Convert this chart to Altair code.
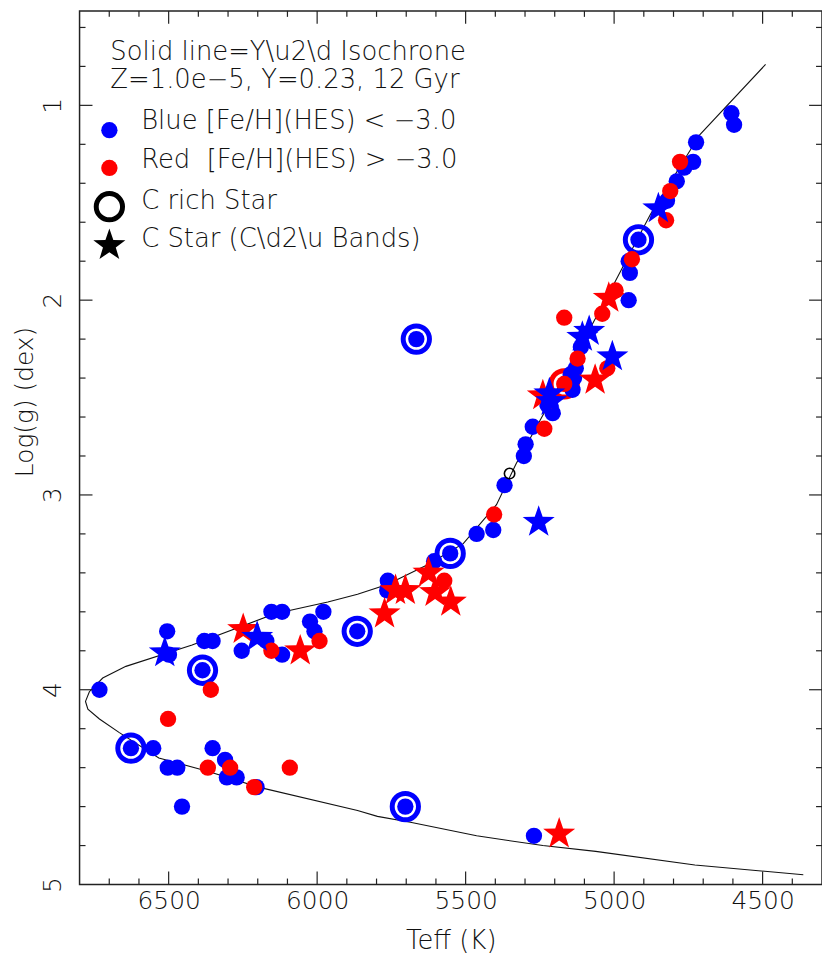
import altair as alt
import pandas as pd

# ---------------- data ----------------
blue_teff = [6733, 6505, 6499, 6380, 6352, 6386, 6627, 6552, 6503, 6471, 6455, 6352, 6310, 6304, 6271, 6204,
             6154, 6118, 5979, 6024, 6009, 6171, 6254, 6118, 5865, 5762, 5764, 5606, 5552, 5463, 5407,
             5369, 5304, 5298, 5274, 5703, 5270, 5666, 5207, 5224, 5157, 5140, 5135, 5146, 5129,
             5112, 4951, 4947, 4951, 4918, 4822, 4789, 4764, 4734, 4724, 4605, 4596]
blue_logg = [4.00, 3.70, 3.82, 3.75, 3.75, 3.90, 4.30, 4.30, 4.40, 4.40, 4.60, 4.30, 4.36, 4.45, 4.45, 4.50,
             3.60, 3.60, 3.60, 3.65, 3.70, 3.75, 3.80, 3.82, 3.70, 3.44, 3.49, 3.34, 3.30, 3.20, 3.18,
             2.95, 2.80, 2.74, 2.65, 4.60, 4.75, 2.20, 2.58, 2.54, 2.42, 2.46, 2.40, 2.38, 2.35,
             2.24, 2.00, 1.86, 1.80, 1.69, 1.49, 1.39, 1.32, 1.29, 1.19, 1.04, 1.10]

red_teff = [6358, 6502, 6368, 6293, 6212, 6092, 6154, 5992, 5572, 5404, 5235, 5168, 5040, 4995,
            5023, 5123, 4940, 4825, 4811, 4778, 5168]
red_logg = [4.00, 4.15, 4.40, 4.40, 4.50, 4.40, 3.80, 3.75, 3.44, 3.10, 2.66, 2.09, 2.07, 1.95,
            2.35, 2.30, 1.79, 1.59, 1.44, 1.29, 2.43]

red_star_teff = [6249, 6057, 5773, 5736, 5703, 5625, 5603, 5550, 5185, 5018, 5064, 5240]
red_star_logg = [3.69, 3.80, 3.61, 3.49, 3.49, 3.40, 3.50, 3.55, 4.74, 1.99, 2.41, 2.49]

blue_star_teff = [6513, 6202, 5254, 4851, 5084, 5107, 5006, 5218, 5212]
blue_star_logg = [3.81, 3.73, 3.14, 1.53, 2.16, 2.19, 2.29, 2.48, 2.52]

blue_ring_teff = [6386, 6627, 5865, 5552, 5703, 5666, 4918]
blue_ring_logg = [3.90, 4.30, 3.70, 3.30, 4.60, 2.20, 1.69]
red_ring_teff = [5168]
red_ring_logg = [2.43]

open_teff = [5352]
open_logg = [2.89]

iso_teff = [4363, 4728, 5062, 5240, 5463, 5686, 5797, 5864, 6198, 6366, 6533, 6666, 6733, 6772, 6780,
            6767, 6722, 6644, 6421, 6143, 5964, 5864, 5764, 5630, 5508, 5396, 5330, 5200, 5100, 4995,
            4878, 4711, 4490]
iso_logg = [4.95, 4.90, 4.83, 4.80, 4.75, 4.68, 4.65, 4.62, 4.50, 4.42, 4.35, 4.22, 4.15, 4.10, 4.06,
            4.01, 3.94, 3.88, 3.77, 3.61, 3.55, 3.51, 3.46, 3.36, 3.25, 3.05, 2.84, 2.48, 2.20, 1.90,
            1.56, 1.15, 0.79]

x_major = [6500, 6000, 5500, 5000, 4500]
x_minor = [t for t in range(4400, 6800, 100) if t % 500 != 0]
y_major = [1, 2, 3, 4, 5]
y_minor = [round(0.6 + 0.2 * i, 1) for i in range(22) if abs((0.6 + 0.2 * i) - round(0.6 + 0.2 * i)) > 1e-6]

legend_lines = ["Solid line=Y\\u2\\d Isochrone", "Z=1.0e\u22125, Y=0.23, 12 Gyr"]
legend_labels = ["Blue [Fe/H](HES) < \u22123.0", "Red\u00a0\u00a0[Fe/H](HES) > \u22123.0",
                 "C rich Star", "C Star (C\\d2\\u Bands)"]

# ---------------- styling ----------------
W, H = 747, 879
FONT = "DejaVu Sans"
TXT = "#111111"
BLUE = "#0000ff"
RED = "#ff0000"
DOT = 270
RING = 700
STAR = 1150
STAR_PATH = ("M0,-1L0.235,-0.324L0.951,-0.309L0.380,0.124L0.588,0.809L0,0.400"
             "L-0.588,0.809L-0.380,0.124L-0.951,-0.309L-0.235,-0.324Z")

xs = alt.Scale(domain=[4300, 6800], reverse=True, nice=False, zero=False)
ys = alt.Scale(domain=[0.515, 5.0], reverse=True, nice=False, zero=False)

x_axis = alt.Axis(values=x_major, format="d", title="Teff (K)", ticks=False, tickSize=0, domain=False,
                  grid=False, labelFont=FONT, labelFontSize=25, labelColor=TXT, labelPadding=4,
                  labelFontWeight=200, titleFont=FONT, titleFontSize=26, titleFontWeight=200,
                  titleColor=TXT, titleY=56, titleBaseline="middle")
y_axis = alt.Axis(values=y_major, format="d", title="Log(g) (dex)", ticks=False, tickSize=0, domain=False,
                  grid=False, labelFont=FONT, labelFontSize=25, labelColor=TXT, labelAngle=270,
                  labelAlign="center", labelBaseline="middle", labelPadding=27, labelFontWeight=200,
                  titleFont=FONT, titleFontSize=25, titleFontWeight=200, titleColor=TXT, titleAngle=270,
                  titleX=-55, titleY=393, titleAlign="center", titleBaseline="middle")

def df(t, g):
    return pd.DataFrame({"teff": t, "logg": g})

def X():
    return alt.X("teff:Q", scale=xs, axis=x_axis)

def Y():
    return alt.Y("logg:Q", scale=ys, axis=y_axis)

iso_df = pd.DataFrame({"teff": iso_teff, "logg": iso_logg, "i": list(range(len(iso_teff)))})
iso = alt.Chart(iso_df).mark_line(color="#111111", strokeWidth=1.1).encode(
    x=X(), y=Y(), order="i:Q")

rings_b = alt.Chart(df(blue_ring_teff, blue_ring_logg)).mark_point(
    shape="circle", filled=False, size=RING, strokeWidth=5, color=BLUE, opacity=1).encode(x=X(), y=Y())
rings_r = alt.Chart(df(red_ring_teff, red_ring_logg)).mark_point(
    shape="circle", filled=False, size=RING, strokeWidth=5, color=RED, opacity=1).encode(x=X(), y=Y())
dots_b = alt.Chart(df(blue_teff, blue_logg)).mark_circle(size=DOT, color=BLUE, opacity=1).encode(x=X(), y=Y())
dots_r = alt.Chart(df(red_teff, red_logg)).mark_circle(size=DOT, color=RED, opacity=1).encode(x=X(), y=Y())
stars_r = alt.Chart(df(red_star_teff, red_star_logg)).mark_point(
    shape=STAR_PATH, filled=True, size=STAR, color=RED, opacity=1, strokeWidth=0).encode(x=X(), y=Y())
stars_b = alt.Chart(df(blue_star_teff, blue_star_logg)).mark_point(
    shape=STAR_PATH, filled=True, size=STAR, color=BLUE, opacity=1, strokeWidth=0).encode(x=X(), y=Y())
open_c = alt.Chart(df(open_teff, open_logg)).mark_point(
    shape="circle", filled=False, size=110, strokeWidth=1.6, color="#000000", opacity=1).encode(x=X(), y=Y())

# ---------------- frame ticks (pointing inward) ----------------
def xticks(vals, length):
    d = pd.DataFrame({"teff": vals})
    bot = alt.Chart(d).mark_rule(color="#222222", strokeWidth=1.2).encode(
        x=X(), y=alt.value(H), y2=alt.value(H - length))
    top = alt.Chart(d).mark_rule(color="#222222", strokeWidth=1.2).encode(
        x=X(), y=alt.value(0), y2=alt.value(length))
    return [bot, top]

def yticks(vals, length):
    d = pd.DataFrame({"logg": vals})
    left = alt.Chart(d).mark_rule(color="#222222", strokeWidth=1.2).encode(
        y=Y(), x=alt.value(0), x2=alt.value(length))
    right = alt.Chart(d).mark_rule(color="#222222", strokeWidth=1.2).encode(
        y=Y(), x=alt.value(W), x2=alt.value(W - length))
    return [left, right]

tick_layers = xticks(x_major, 13) + xticks(x_minor, 6) + yticks(y_major[:-1], 13) + yticks(y_minor, 6)

# ---------------- legend ----------------
base = alt.Chart(pd.DataFrame({"a": [0]}))

def ltext(s, x, y):
    return base.mark_text(text=s, align="left", baseline="middle", font=FONT, fontSize=26,
                          fontWeight=200, color=TXT).encode(x=alt.value(x), y=alt.value(y))

leg = [
    ltext(legend_lines[0], 31, 41),
    ltext(legend_lines[1], 31, 70),
    ltext(legend_labels[0], 62, 111),
    ltext(legend_labels[1], 62, 150),
    ltext(legend_labels[2], 62, 191),
    ltext(legend_labels[3], 62, 230),
    base.mark_circle(size=DOT, color=BLUE, opacity=1).encode(x=alt.value(30), y=alt.value(120)),
    base.mark_circle(size=DOT, color=RED, opacity=1).encode(x=alt.value(30), y=alt.value(158)),
    base.mark_point(shape="circle", filled=False, size=RING, strokeWidth=5, color="#000000",
                    opacity=1).encode(x=alt.value(30), y=alt.value(197)),
    base.mark_point(shape=STAR_PATH, filled=True, size=STAR, color="#000000", opacity=1,
                    strokeWidth=0).encode(x=alt.value(30), y=alt.value(236)),
]

chart = alt.layer(iso, rings_b, rings_r, dots_b, dots_r, stars_r, stars_b, open_c, *tick_layers, *leg).properties(
    width=W, height=H,
    autosize=alt.AutoSizeParams(type="none"),
    padding={"left": 72, "top": 0, "right": 0, "bottom": 68},
).configure(background="white").configure_view(stroke="#222222", strokeWidth=1.5)

chart.save("out.html", embed_options={"renderer": "svg", "actions": False})
